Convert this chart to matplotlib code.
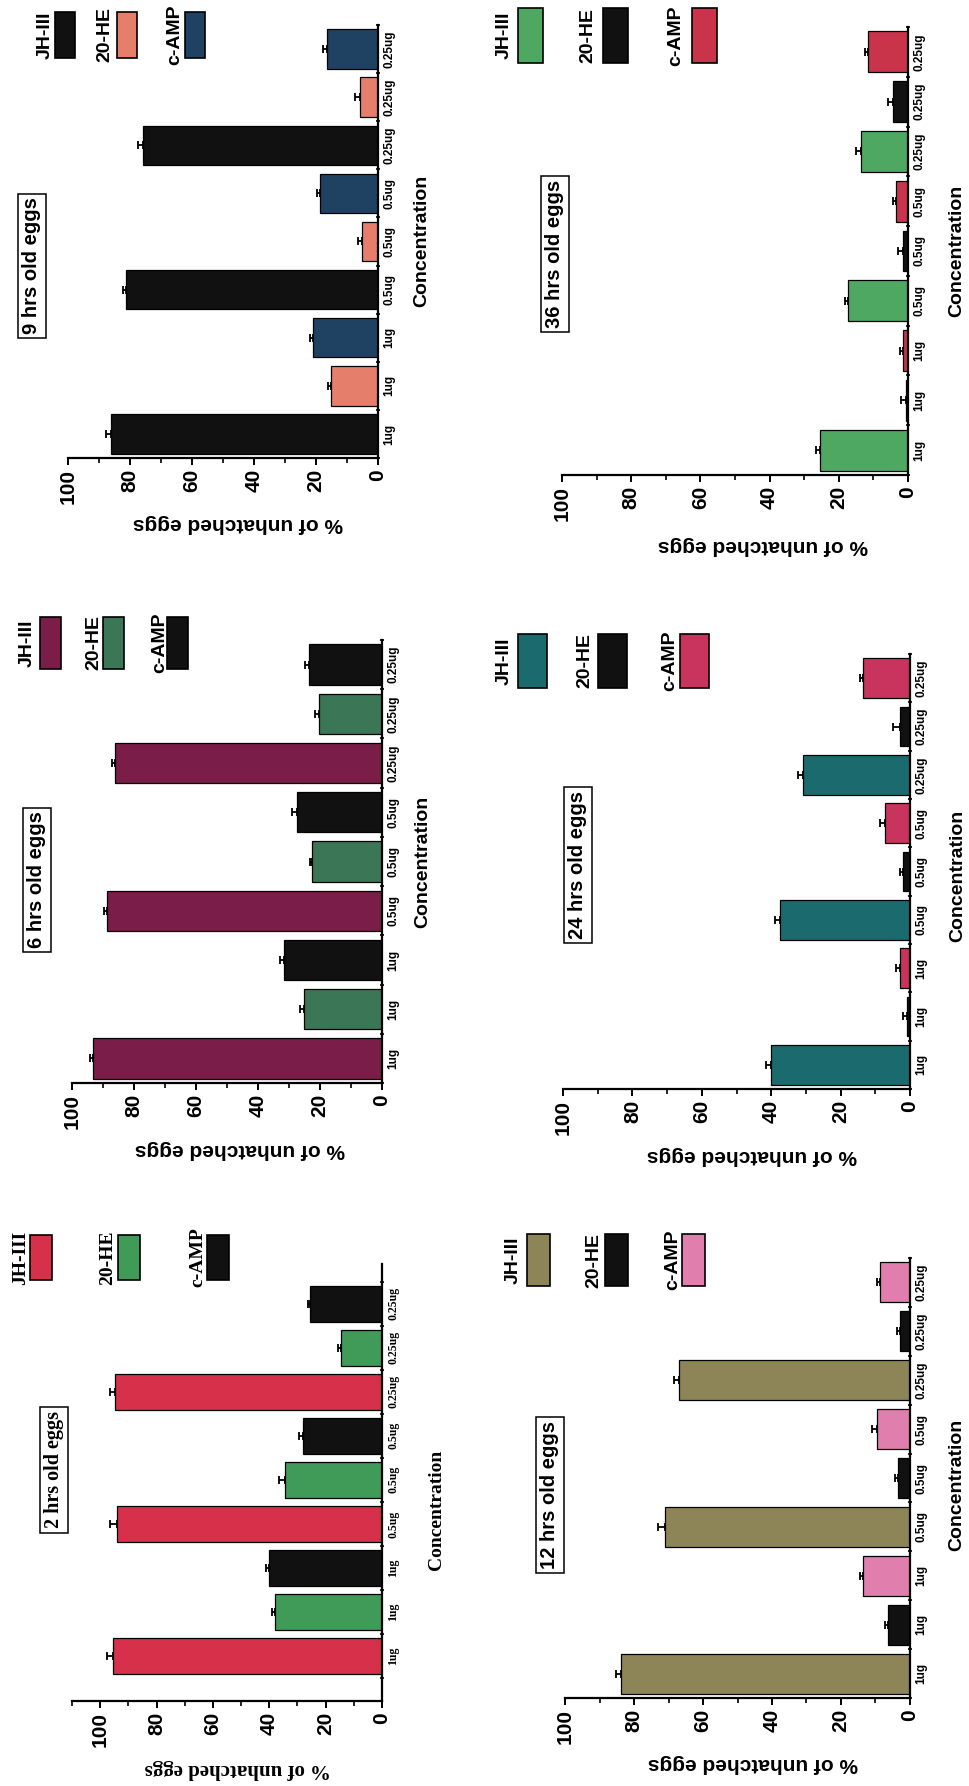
import matplotlib.pyplot as plt
import numpy as np
from matplotlib.patches import Rectangle
from matplotlib.ticker import MultipleLocator

plt.rcParams['font.family'] = 'Liberation Sans'
plt.rcParams['font.weight'] = 'bold'

doses = ['1ug', '1ug', '1ug', '0.5ug', '0.5ug', '0.5ug', '0.25ug', '0.25ug', '0.25ug']
agents = ['JH-III', '20-HE', 'c-AMP']
pct_ticks = [0, 20, 40, 60, 80, 100]

# % of unhatched eggs; within each dose the order is JH-III, 20-HE, c-AMP
eggs_2h = [95.3, 37.8, 40.1, 94.2, 34.3, 27.9, 94.8, 14.5, 25.6]
sem_2h = [2.3, 1.2, 1.2, 2.3, 2.3, 1.7, 1.7, 1.2, 0.6]
eggs_6h = [93.2, 25.3, 31.7, 88.7, 22.6, 27.4, 86.0, 20.4, 23.7]
sem_6h = [1.1, 1.1, 1.1, 1.1, 0.6, 1.6, 1.1, 1.1, 1.1]
eggs_9h = [86.1, 15.0, 20.9, 81.3, 5.3, 18.7, 75.9, 5.9, 16.6]
sem_9h = [1.8, 1.1, 1.1, 1.1, 1.1, 1.1, 1.6, 1.6, 1.1]
eggs_12h = [83.8, 6.3, 13.5, 71.0, 3.4, 9.7, 67.1, 2.9, 8.7]
sem_12h = [1.4, 1.0, 1.0, 1.9, 1.0, 1.4, 1.4, 1.0, 1.0]
eggs_24h = [40.0, 1.0, 2.9, 37.5, 1.9, 7.2, 30.8, 2.9, 13.5]
sem_24h = [1.4, 1.0, 1.0, 1.4, 1.0, 1.4, 1.4, 1.9, 1.0]
eggs_36h = [25.5, 0.5, 1.4, 17.3, 1.4, 3.4, 13.5, 4.3, 11.5]
sem_36h = [1.0, 1.5, 1.0, 1.0, 1.4, 1.0, 1.4, 1.4, 1.0]

W, H = 970, 1786
fig = plt.figure(figsize=(W / 100, H / 100), dpi=100)


def fx(x):
    return x / W


def fy(y):
    return 1 - y / H


# the whole figure is laid out turned a quarter turn, so bars run
# right-to-left from a vertical category axis
panels = [
    dict(title='9 hrs old eggs', vals=eggs_9h, errs=sem_9h,
         colors=['#111111', '#e57f6c', '#1f4263'],
         box=(68, 378, 25, 458), xmax=100, ylim=(-0.5, 8.5),
         ylab=(238, 524), conc=(422, 241), ttl=(32, 266),
         leg_x=[55, 117, 185], leg_w=20, leg_y=(12, 58), leg_tx=[45, 105, 175],
         font='Liberation Sans'),
    dict(title='36 hrs old eggs', vals=eggs_36h, errs=sem_36h,
         colors=['#4fa862', '#111111', '#c9344b'],
         box=(562, 908, 27, 475), xmax=100, ylim=(-0.5, 8.5),
         ylab=(763, 546), conc=(957, 251), ttl=(555, 254),
         leg_x=[518, 603, 692], leg_w=25, leg_y=(8, 63), leg_tx=[504, 588, 676],
         font='Liberation Sans'),
    dict(title='6 hrs old eggs', vals=eggs_6h, errs=sem_6h,
         colors=['#7a1d48', '#3b7656', '#111111'],
         box=(72, 382, 640, 1083), xmax=100, ylim=(-0.5, 8.5),
         ylab=(240, 1150), conc=(423, 862), ttl=(37, 880),
         leg_x=[40, 103, 167], leg_w=21, leg_y=(617, 669), leg_tx=[27, 94, 160],
         font='Liberation Sans'),
    dict(title='24 hrs old eggs', vals=eggs_24h, errs=sem_24h,
         colors=['#1b6a6e', '#111111', '#c8345e'],
         box=(563, 910, 654, 1089), xmax=100, ylim=(-0.5, 8.5),
         ylab=(752, 1155), conc=(958, 876), ttl=(578, 865),
         leg_x=[518, 598, 680], leg_w=29, leg_y=(634, 688), leg_tx=[504, 585, 670],
         font='Liberation Sans'),
    dict(title='2 hrs old eggs', vals=eggs_2h, errs=sem_2h,
         colors=['#d6304a', '#3f9b57', '#111111'],
         box=(72, 382, 1264, 1701), xmax=110, ylim=(-1.02, 8.9),
         ylab=(238, 1769), conc=(437, 1510), ttl=(54, 1470),
         leg_x=[30, 118, 207], leg_w=22, leg_y=(1235, 1280), leg_tx=[21, 108, 198],
         font='Liberation Serif'),
    dict(title='12 hrs old eggs', vals=eggs_12h, errs=sem_12h,
         colors=['#8d8458', '#111111', '#e07fae'],
         box=(565, 910, 1258, 1698), xmax=100, ylim=(-0.5, 8.5),
         ylab=(753, 1764), conc=(957, 1485), ttl=(550, 1495),
         leg_x=[527, 605, 682], leg_w=23, leg_y=(1234, 1286), leg_tx=[513, 594, 673],
         font='Liberation Sans'),
]

for p in panels:
    x0, x1, y0, y1 = p['box']
    ax = fig.add_axes([fx(x0), fy(y1), (x1 - x0) / W, (y1 - y0) / H])
    pos = np.arange(len(doses))
    bar_colors = [p['colors'][i % 3] for i in range(len(doses))]
    errs = np.array([np.zeros(len(doses)), p['errs']])
    ax.barh(pos, p['vals'], height=0.82, color=bar_colors, edgecolor='black',
            linewidth=0.9, xerr=errs,
            error_kw=dict(ecolor='black', elinewidth=1.3, capsize=3, capthick=1.3))

    ax.set_xlim(p['xmax'], 0)
    ax.set_ylim(*p['ylim'])
    for side in ['top', 'left']:
        ax.spines[side].set_visible(False)
    for side in ['bottom', 'right']:
        ax.spines[side].set_linewidth(1.6)

    ax.set_xticks(pct_ticks)
    ax.set_xticklabels([str(t) for t in pct_ticks], rotation=90,
                       fontsize=15, fontweight='bold', family='Liberation Sans')
    ax.xaxis.set_minor_locator(MultipleLocator(10))
    ax.tick_params(axis='x', which='major', length=5, width=1.4, pad=3)
    ax.tick_params(axis='x', which='minor', length=3.5, width=1.2)

    ax.yaxis.tick_right()
    ax.set_yticks(pos)
    ax.set_yticklabels(doses, rotation=90, va='center', fontsize=8.5,
                       fontweight='bold', family=p['font'])
    ax.set_yticks(np.arange(-0.5, len(doses), 1), minor=True)
    ax.tick_params(axis='y', which='major', length=0, pad=4)
    ax.tick_params(axis='y', which='minor', length=3.5, width=1.2, direction='inout')

    fig.text(fx(p['ylab'][0]), fy(p['ylab'][1]), '% of unhatched eggs', rotation=180,
             ha='center', va='center', fontsize=15, fontweight='bold', family=p['font'])
    fig.text(fx(p['conc'][0]), fy(p['conc'][1]), 'Concentration', rotation=90,
             ha='center', va='center', fontsize=14, fontweight='bold', family=p['font'])
    fig.text(fx(p['ttl'][0]), fy(p['ttl'][1]), p['title'], rotation=90,
             ha='center', va='center', fontsize=14.5, fontweight='bold', family=p['font'],
             bbox=dict(boxstyle='square,pad=0.2', facecolor='white',
                       edgecolor='black', linewidth=1.1))

    ly0, ly1 = p['leg_y']
    for name, c, bx, tx in zip(agents, p['colors'], p['leg_x'], p['leg_tx']):
        fig.add_artist(Rectangle((fx(bx), fy(ly1)), p['leg_w'] / W, (ly1 - ly0) / H,
                                 transform=fig.transFigure, facecolor=c,
                                 edgecolor='black', linewidth=1.2))
        fig.text(fx(tx), fy((ly0 + ly1) / 2), name, rotation=90, ha='center',
                 va='center', fontsize=14, fontweight='bold', family=p['font'])

fig.savefig('out.png', dpi=100)
